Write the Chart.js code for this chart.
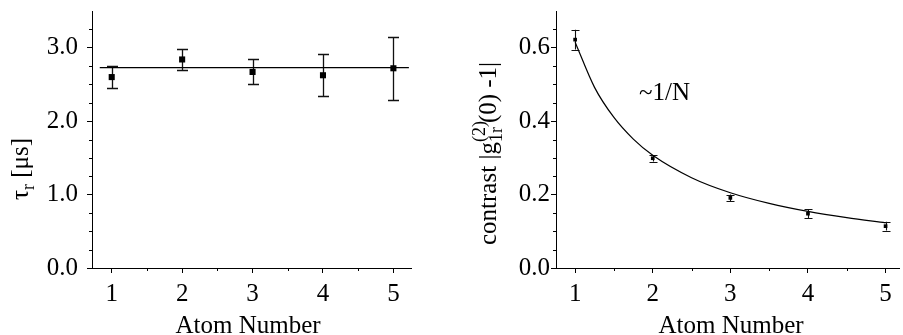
<!DOCTYPE html>
<html>
<head>
<meta charset="utf-8">
<script src="https://cdn.jsdelivr.net/npm/chart.js@4.4.1/dist/chart.umd.min.js"></script>
<style>
html,body{margin:0;padding:0;background:#fff;width:903px;height:335px;overflow:hidden;}
canvas{position:absolute;top:0;}
</style>
</head>
<body>
<canvas id="c1" width="451" height="335" style="left:0"></canvas>
<canvas id="c2" width="452" height="335" style="left:451px"></canvas>
<script>
// ---------- data ----------
const atomNumbers = [1, 2, 3, 4, 5];
const tauValues = [2.60, 2.84, 2.67, 2.625, 2.72];
const tauErrors = [0.155, 0.14, 0.17, 0.285, 0.43];
const tauFitX = [0.83, 5.22];
const tauFitY = [2.73, 2.73];
const tauTicks = [0, 1, 2, 3];

const contrastValues = [0.622, 0.299, 0.191, 0.148, 0.114];
const contrastErrors = [0.027, 0.009, 0.009, 0.012, 0.012];
const fitX = [1, 1.25, 1.5, 1.75, 2, 2.5, 3, 3.5, 4, 4.5, 5];
const fitY = [0.615, 0.492, 0.41, 0.351, 0.307, 0.246, 0.205, 0.176, 0.154, 0.137, 0.123];
const contrastTicks = [0, 0.2, 0.4, 0.6];
const xTicks = [1, 2, 3, 4, 5];

const FONT = "'Liberation Serif', 'Times New Roman', serif";
Chart.defaults.font.family = FONT;
Chart.defaults.color = '#000';

function pts(xs, ys) { return xs.map((x, i) => ({x: x, y: ys[i]})); }

// error bars + minor ticks + rich titles
const extras = {
  id: 'extras',
  beforeDatasetsDraw(chart, args, o) {
    const ctx = chart.ctx, xs = chart.scales.x, ys = chart.scales.y;
    ctx.save();
    ctx.strokeStyle = '#111';
    ctx.lineWidth = o.errWidth;
    chart.data.datasets.forEach(ds => {
      if (!ds.errors) return;
      ds.data.forEach((p, i) => {
        const e = ds.errors[i];
        const px = Math.round(xs.getPixelForValue(p.x)) + 0.5;
        const y1 = ys.getPixelForValue(p.y - e), y2 = ys.getPixelForValue(p.y + e);
        ctx.beginPath();
        ctx.moveTo(px, y1); ctx.lineTo(px, y2);
        ctx.moveTo(px - o.cap, Math.round(y1) + 0.5); ctx.lineTo(px + o.cap, Math.round(y1) + 0.5);
        ctx.moveTo(px - o.cap, Math.round(y2) + 0.5); ctx.lineTo(px + o.cap, Math.round(y2) + 0.5);
        ctx.stroke();
      });
    });
    ctx.restore();
  },
  afterDraw(chart, args, o) {
    const ctx = chart.ctx, xs = chart.scales.x, ys = chart.scales.y;
    const ca = chart.chartArea;
    ctx.save();
    ctx.strokeStyle = '#000';
    ctx.lineWidth = 1;
    ctx.beginPath();
    o.yMinor.forEach(v => {
      const py = Math.round(ys.getPixelForValue(v)) + 0.5;
      ctx.moveTo(ca.left - 3, py); ctx.lineTo(ca.left, py);
    });
    o.xMinor.forEach(v => {
      const px = Math.round(xs.getPixelForValue(v)) + 0.5;
      ctx.moveTo(px, ca.bottom); ctx.lineTo(px, ca.bottom + 3);
    });
    ctx.stroke();
    // x title
    ctx.fillStyle = '#000';
    ctx.font = '25px ' + FONT;
    ctx.textAlign = 'center';
    ctx.textBaseline = 'alphabetic';
    ctx.fillText(o.xTitle, o.xTitlePos[0], o.xTitlePos[1]);
    // rotated y title
    ctx.translate(o.yTitlePos[0], o.yTitlePos[1]);
    ctx.rotate(-Math.PI / 2);
    ctx.textAlign = 'left';
    let cx = 0;
    const size = 25;
    o.yTitle.forEach(p => {
      const s = size * (p.scale || 1);
      ctx.font = s + 'px ' + FONT;
      const w = ctx.measureText(p.t).width;
      ctx.fillText(p.t, cx, (p.dy || 0) * size);
      if (p.advance !== false) cx += Math.max(w, p.minAdvance || 0);
    });
    ctx.restore();
    // free annotation
    if (o.note) {
      ctx.save();
      ctx.fillStyle = '#000';
      ctx.font = '25px ' + FONT;
      ctx.textAlign = 'left';
      ctx.textBaseline = 'alphabetic';
      ctx.fillText(o.note.t, o.note.x, o.note.y);
      ctx.restore();
    }
  }
};

function axisCommon(extra) {
  return Object.assign({
    type: 'linear',
    grid: {display: true, drawOnChartArea: false, drawTicks: true, tickLength: 5, color: '#000', lineWidth: 1},
    border: {display: true, color: '#000', width: 1},
  }, extra);
}

function makeChart(id, cfg) {
  return new Chart(document.getElementById(id), {
    type: 'scatter',
    data: {datasets: [
      {data: pts(cfg.fitX, cfg.fitY), showLine: true, borderColor: '#000', borderWidth: cfg.fitWidth,
       pointRadius: 0, cubicInterpolationMode: 'monotone', order: 2},
      {data: pts(atomNumbers, cfg.values), errors: cfg.errors, pointStyle: 'rect',
       pointRadius: cfg.pr, backgroundColor: '#000', borderColor: '#000', borderWidth: 0, order: 1}
    ]},
    options: {
      responsive: false, devicePixelRatio: 1, animation: false,
      layout: {padding: cfg.padding},
      plugins: {legend: {display: false}, tooltip: {enabled: false}, extras: cfg.extras},
      scales: {
        x: axisCommon({
          min: cfg.xMin, max: cfg.xMax,
          afterBuildTicks: s => { s.ticks = xTicks.map(v => ({value: v})); },
          afterFit: s => { s.height = 67; s.paddingLeft = 0; s.paddingRight = 0; },
          ticks: {font: {size: 25, family: FONT}, padding: cfg.xPad, maxRotation: 0, color: '#000'}
        }),
        y: axisCommon({
          min: cfg.yMin, max: cfg.yMax,
          afterBuildTicks: s => { s.ticks = cfg.yTicks.map(v => ({value: v})); },
          afterFit: s => { s.width = cfg.yWidth; s.paddingTop = 0; s.paddingBottom = 0; },
          ticks: {font: {size: 25, family: FONT}, padding: cfg.yPad, color: '#000', callback: v => Number(v).toFixed(1)}
        })
      }
    },
    plugins: [extras]
  });
}

makeChart('c1', {
  values: tauValues, errors: tauErrors, fitX: tauFitX, fitY: tauFitY, fitWidth: 1.3, pr: 4.3,
  xMin: 0.72, xMax: 5.25, yMin: 0, yMax: 3.5, yTicks: tauTicks,
  padding: {left: 0, right: 40, top: 11, bottom: 0}, yWidth: 92, xPad: 6, yPad: 9,
  extras: {
    errWidth: 1.3, cap: 5.5,
    yMinor: [0.25, 0.5, 0.75, 1.25, 1.5, 1.75, 2.25, 2.5, 2.75, 3.25],
    xMinor: [1.5, 2.5, 3.5, 4.5],
    xTitle: 'Atom Number', xTitlePos: [248, 333],
    yTitle: [{t: 'τ'}, {t: 'r', scale: 0.72, dy: 0.22}, {t: ' [μs]'}],
    yTitlePos: [28, 200]
  }
});

makeChart('c2', {
  values: contrastValues, errors: contrastErrors, fitX: fitX, fitY: fitY, fitWidth: 1.2, pr: 2.6,
  xMin: 0.7535, xMax: 5.173, yMin: 0, yMax: 0.7, yTicks: contrastTicks,
  padding: {left: 0, right: 1, top: 11, bottom: 0}, yWidth: 105, xPad: 6, yPad: 1,
  extras: {
    errWidth: 1.1, cap: 4,
    yMinor: [0.05, 0.1, 0.15, 0.25, 0.3, 0.35, 0.45, 0.5, 0.55, 0.65],
    xMinor: [1.5, 2.5, 3.5, 4.5],
    xTitle: 'Atom Number', xTitlePos: [280, 333],
    yTitle: [{t: 'contrast |g'}, {t: '(2)', scale: 0.72, dy: -0.45, advance: false},
             {t: '1r', scale: 0.72, dy: 0.22, minAdvance: 19}, {t: '(0) -1|'}],
    yTitlePos: [45, 245],
    note: {t: '~1/N', x: 188, y: 100}
  }
});
</script>
</body>
</html>
